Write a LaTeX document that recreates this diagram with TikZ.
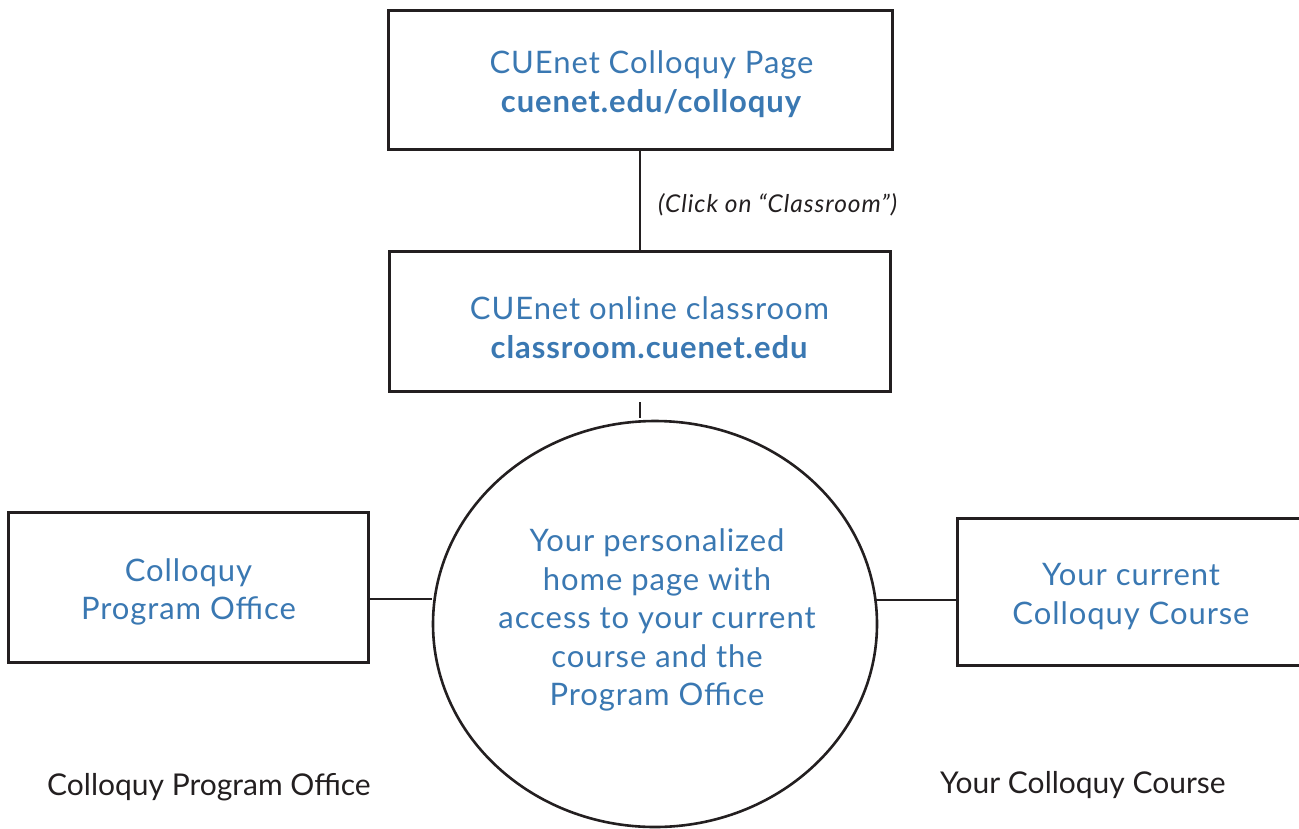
\documentclass[tikz,border=0pt]{standalone}
\usepackage{fontspec}
\setmainfont{Lato}
\usetikzlibrary{shapes.geometric}
\definecolor{cblue}{RGB}{58,120,178}
\definecolor{cink}{RGB}{35,31,32}
\tikzset{
  boxnode/.style={draw=cink, line width=3pt, rectangle, inner sep=0pt},
  circnode/.style={draw=cink, line width=2.6pt, ellipse, inner sep=0pt},
  bluetext/.style={inner sep=0pt, align=center, text=cblue,
    font=\fontsize{31}{38.5}\selectfont\addfontfeature{LetterSpace=3}},
  conn/.style={draw=cink, line width=2.6pt},
  capnode/.style={text=cink, inner sep=0pt, font=\fontsize{30}{34}\selectfont}
}
\begin{document}
\begin{tikzpicture}[x=1pt,y=-1pt]
\useasboundingbox (0,0) rectangle (1299,828);
\clip (0,0) rectangle (1299,828);
\node[boxnode, minimum width=504pt, minimum height=139pt] (top) at (640,79.5) {};
\node[bluetext] (toptext) at (651.5,84) {CUEnet Colloquy Page\\ \textbf{cuenet.edu/colloquy}};
\node[boxnode, minimum width=501pt, minimum height=140pt] (mid) at (640,321) {};
\node[bluetext] (midtext) at (649.5,327.5) {CUEnet online classroom\\ \textbf{classroom.cuenet.edu}};
\node[circnode, minimum width=444pt, minimum height=406pt] (circ) at (655,624) {};
\node[bluetext] (circtext) at (657,620)
  {Your personalized\\ home page with\\ access to your current\\ course and the\\ Program Office};
\node[boxnode, minimum width=360pt, minimum height=150pt] (left) at (188.5,587.5) {};
\node[bluetext] (lefttext) at (188.5,592) {Colloquy\\ Program Office};
\node[boxnode, minimum width=348pt, minimum height=147pt] (right) at (1131,591.5) {};
\node[bluetext] (righttext) at (1131,596.5) {Your current\\ Colloquy Course};
\draw[conn] (top.south) -- (mid.north);
\node[anchor=west, inner sep=0pt, text=cink,
  font=\fontsize{24.5}{27}\selectfont\itshape\addfontfeature{LetterSpace=4}] (clk) at (658,205)
  {(Click on \char"201C Classroom\char"201D)};
\coordinate (t1) at (640,402);
\coordinate (t2) at (640,418);
\draw[conn] (t1) -- (t2);
\coordinate (lc) at (0,599);
\coordinate (rc) at (0,600);
\draw[conn] (left.east |- lc) -- (circ.west |- lc);
\draw[conn] ([xshift=-2pt]circ.east |- rc) -- (right.west |- rc);
\node[capnode, anchor=west] (lcap) at (47,787) {Colloquy Program Office};
\node[capnode, anchor=west] (rcap) at (940,785) {Your Colloquy Course};
\end{tikzpicture}
\end{document}
